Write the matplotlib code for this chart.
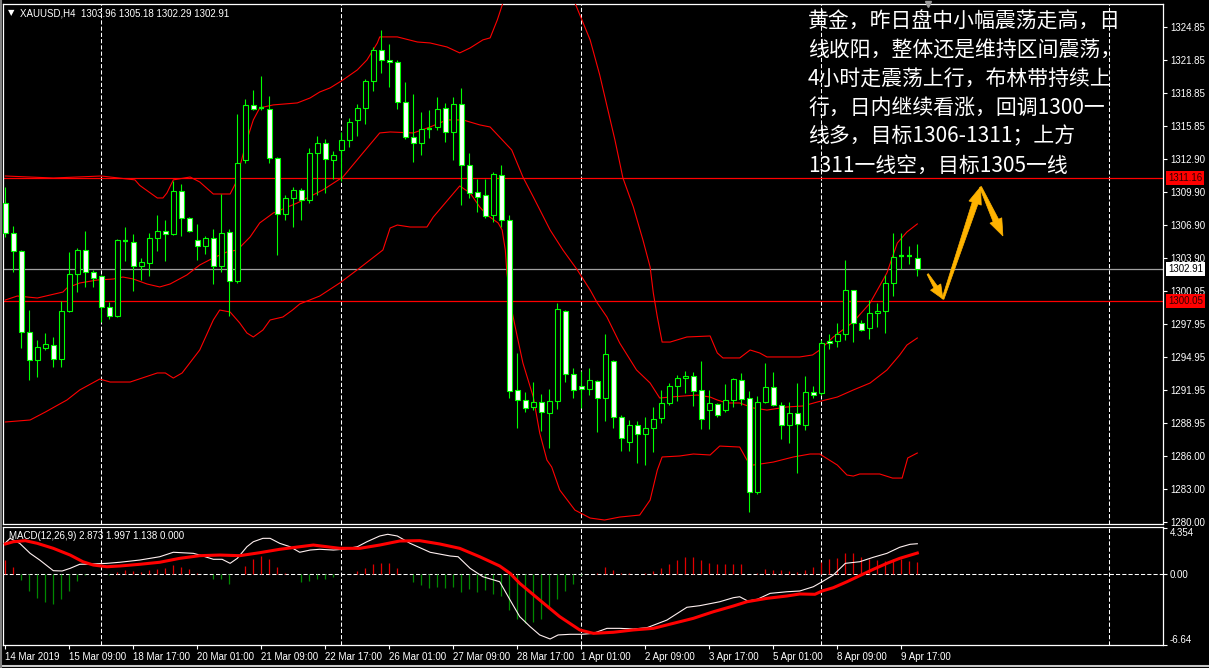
import matplotlib
matplotlib.use('Agg')
import matplotlib.pyplot as plt
import matplotlib.transforms as mtrans
from matplotlib.patches import Polygon
from matplotlib.lines import Line2D
import numpy as np

# ---------------- data ----------------
opens = [1308.91, 1306.19, 1304.56, 1297.22, 1294.68, 1295.77, 1296.04, 1294.77, 1299.12, 1302.48,
         1304.65, 1302.66, 1302.29, 1299.49, 1298.67, 1305.37, 1305.37, 1303.20, 1303.47, 1305.74,
         1306.37, 1306.10, 1310.00, 1307.55, 1305.56, 1305.01, 1305.74, 1303.20, 1306.28, 1301.84,
         1312.80, 1317.79, 1317.52, 1317.42, 1312.99, 1307.91, 1309.36, 1310.09, 1309.18, 1313.44,
         1314.34, 1312.80, 1313.71, 1314.62, 1316.43, 1317.52, 1319.96, 1322.77, 1321.86, 1321.68,
         1318.06, 1314.89, 1314.34, 1315.61, 1315.79, 1317.52, 1315.34, 1317.88, 1312.35, 1309.90,
         1309.63, 1307.82, 1311.44, 1307.37, 1291.97, 1291.06, 1290.43, 1290.88, 1289.88, 1290.97,
         1299.15, 1293.42, 1292.33, 1292.06, 1292.78, 1291.24, 1294.59, 1289.52, 1287.25, 1288.79,
         1287.98, 1288.52, 1289.43, 1290.79, 1292.33, 1293.05, 1293.23, 1291.97, 1290.15, 1290.74,
         1290.15, 1291.06, 1292.87, 1291.24, 1282.72, 1290.88, 1292.24, 1290.61, 1288.79, 1289.88,
         1288.79, 1291.78, 1291.69, 1296.41, 1296.41, 1297.04, 1300.98, 1298.04, 1297.58, 1298.94,
         1299.12, 1301.66, 1304.02, 1304.11, 1303.96]
highs = [1310.36, 1306.82, 1304.65, 1299.21, 1296.50, 1297.13, 1296.77, 1300.03, 1304.47, 1304.83,
         1306.37, 1302.84, 1302.38, 1299.94, 1305.65, 1306.73, 1306.10, 1303.93, 1306.19, 1307.82,
         1307.37, 1310.90, 1310.63, 1307.64, 1307.01, 1305.92, 1306.55, 1309.72, 1306.55, 1316.97,
         1318.33, 1319.15, 1320.41, 1318.60, 1313.10, 1309.63, 1310.36, 1310.27, 1313.89, 1314.98,
         1314.71, 1313.62, 1315.34, 1316.61, 1317.88, 1320.14, 1323.04, 1324.58, 1323.31, 1321.86,
         1319.87, 1318.78, 1317.15, 1317.33, 1318.51, 1317.97, 1318.51, 1319.33, 1313.44, 1311.08,
         1311.08, 1311.72, 1312.35, 1307.82, 1295.32, 1291.78, 1292.69, 1291.60, 1292.06, 1299.85,
         1299.25, 1293.96, 1293.69, 1293.96, 1292.87, 1297.04, 1294.68, 1289.70, 1289.25, 1289.16,
         1289.52, 1290.43, 1291.97, 1292.60, 1293.32, 1293.69, 1293.60, 1294.59, 1291.97, 1290.79,
         1292.51, 1293.05, 1293.51, 1291.88, 1291.42, 1294.41, 1293.60, 1290.88, 1290.88, 1292.60,
         1293.23, 1292.33, 1296.50, 1297.04, 1298.04, 1303.74, 1301.03, 1298.31, 1300.12, 1299.85,
         1302.38, 1306.19, 1306.19, 1305.01, 1305.18]
lows = [1305.83, 1302.66, 1295.77, 1292.87, 1293.14, 1295.59, 1294.05, 1294.05, 1299.03, 1300.84,
        1301.30, 1301.30, 1298.13, 1298.40, 1298.58, 1303.65, 1300.94, 1301.93, 1302.29, 1304.56,
        1303.65, 1306.01, 1305.92, 1306.28, 1303.74, 1304.29, 1301.57, 1302.66, 1298.67, 1301.66,
        1312.53, 1317.33, 1317.33, 1312.53, 1304.20, 1307.37, 1306.73, 1307.37, 1308.91, 1309.63,
        1309.81, 1311.08, 1310.90, 1313.98, 1314.98, 1316.07, 1319.06, 1320.69, 1319.42, 1317.42,
        1314.71, 1312.62, 1313.26, 1314.80, 1315.52, 1314.43, 1312.80, 1308.73, 1309.36, 1308.09,
        1307.55, 1307.19, 1306.73, 1291.24, 1288.52, 1289.97, 1290.15, 1288.25, 1286.71, 1290.24,
        1292.69, 1291.24, 1290.34, 1291.51, 1288.16, 1289.16, 1288.52, 1286.44, 1286.44, 1285.35,
        1285.17, 1286.35, 1288.98, 1290.61, 1290.97, 1291.69, 1290.52, 1288.43, 1288.43, 1289.52,
        1289.97, 1290.43, 1290.61, 1280.91, 1282.54, 1290.79, 1290.52, 1287.53, 1287.16, 1284.45,
        1288.34, 1291.24, 1291.51, 1295.68, 1295.86, 1296.50, 1296.31, 1297.31, 1296.59, 1297.67,
        1297.13, 1300.48, 1302.93, 1303.38, 1302.29]
closes = [1306.19, 1304.56, 1297.22, 1294.68, 1295.86, 1296.13, 1294.77, 1299.12, 1302.48, 1304.65,
          1302.66, 1302.11, 1299.49, 1298.67, 1305.56, 1305.47, 1303.20, 1303.56, 1305.74, 1306.37,
          1306.10, 1310.00, 1307.55, 1306.37, 1305.01, 1305.74, 1303.20, 1306.19, 1301.84, 1312.53,
          1317.79, 1317.42, 1317.42, 1312.99, 1307.91, 1309.36, 1310.09, 1309.18, 1313.44, 1314.34,
          1312.89, 1313.26, 1314.62, 1316.25, 1317.52, 1319.96, 1322.77, 1321.86, 1321.68, 1318.06,
          1314.89, 1314.34, 1315.61, 1315.52, 1317.42, 1315.34, 1317.88, 1312.35, 1309.81, 1309.45,
          1307.73, 1311.54, 1307.37, 1291.88, 1291.06, 1290.34, 1290.88, 1289.97, 1290.97, 1299.30,
          1293.42, 1291.97, 1292.06, 1292.87, 1291.24, 1295.23, 1289.52, 1287.62, 1288.79, 1287.98,
          1288.52, 1289.34, 1290.79, 1292.33, 1293.05, 1293.23, 1291.88, 1289.34, 1290.79, 1289.70,
          1291.06, 1292.96, 1291.15, 1282.72, 1290.88, 1292.24, 1290.61, 1288.79, 1289.88, 1288.89,
          1291.78, 1291.51, 1296.22, 1296.22, 1297.04, 1301.03, 1298.04, 1297.40, 1298.94, 1299.12,
          1301.66, 1304.02, 1304.11, 1304.02, 1302.91]

# Bollinger bands (bar index, price)
bb_up_idx = [0, 6, 12, 16.2, 16.8, 19, 19.7, 20.2, 21, 23.1, 24.3, 26, 28.1, 29, 29.3, 30.2, 31, 31.8,
             33.5, 36.5, 38.1, 39.3, 40.6, 42.2, 44, 45.2, 46.5, 46.8, 49, 51.5, 53.1, 55.2, 56.8, 58.1,
             59.7, 60.6, 61.5, 62.2, 64, 69, 71.2, 73.1, 74.3, 76.2, 77.2, 78.5, 79.7, 80.6, 81, 81.5,
             82.1, 83.1, 85.2, 88.1, 89, 89.7, 91.8, 93.1, 94.3, 95.2, 99.3, 100.9, 101.8, 103.5, 106,
             108.1, 110.2, 111.5, 112.7, 114]
bb_up = [1311.35, 1311.17, 1311.35, 1311.0, 1310.5, 1309.36, 1309.36, 1309.81, 1311.0, 1311.26, 1310.81,
         1309.72, 1309.72, 1311.0, 1312.17, 1314.62, 1316.43, 1317.52, 1317.79, 1317.97, 1318.42, 1318.96,
         1319.33, 1320.05, 1320.96, 1321.86, 1323.40, 1323.95, 1323.95, 1323.49, 1323.40, 1323.04, 1322.50,
         1322.95, 1323.68, 1323.86, 1325.49, 1327.03, 1330.5, 1330.5, 1327.03, 1323.68, 1320.5, 1314.62,
         1311.17, 1308.55, 1305.56, 1303.11, 1300.75, 1298.58, 1296.31, 1296.31, 1296.77, 1296.86, 1295.32,
         1294.87, 1294.87, 1295.59, 1295.32, 1294.96, 1294.96, 1295.14, 1295.59, 1296.77, 1298.13, 1299.85,
         1302.57, 1305.28, 1306.28, 1307.01]
bb_mid_idx = [0, 1.5, 4, 5.6, 7.2, 7.7, 9.3, 11.5, 13.5, 14.7, 16, 17.7, 19.3, 20.6, 22.7, 24.3, 26,
              27.7, 29, 30.6, 31.8, 33.5, 36.5, 39.7, 42.2, 44.7, 46.8, 48.1, 51, 53.1, 55.2, 57.2, 59.3,
              60.6, 63.3, 64.7, 66, 68.1, 69.7, 71.5, 73.1, 74, 75.2, 76.8, 78.9, 80.6, 81.8, 83.1, 84.7,
              86.5, 88.1, 89, 90.2, 91.8, 93.5, 95.2, 97.7, 99.7, 101.5, 104, 106, 108.1, 110.2, 111.8,
              112.7, 114]
bb_mid = [1300.12, 1300.48, 1300.30, 1300.57, 1300.84, 1301.21, 1301.66, 1301.93, 1302.02, 1302.20,
          1302.02, 1301.57, 1301.30, 1301.57, 1302.39, 1303.29, 1303.93, 1304.47, 1304.65, 1305.83,
          1307.10, 1308.00, 1308.91, 1310.09, 1311.26, 1313.44, 1315.25, 1315.34, 1315.25, 1315.79,
          1316.43, 1316.43, 1315.98, 1315.79, 1313.71, 1311.26, 1309.45, 1306.46, 1304.65, 1302.84,
          1301.03, 1299.85, 1298.58, 1296.22, 1293.78, 1292.60, 1291.24, 1291.33, 1291.42, 1291.51,
          1291.33, 1291.06, 1290.79, 1290.79, 1290.34, 1290.15, 1290.43, 1290.52, 1290.88, 1291.33,
          1291.97, 1292.60, 1293.78, 1295.14, 1296.04, 1296.68]
bb_low_idx = [0, 3.1, 5, 6.8, 7.7, 9.3, 11.8, 13.1, 15.6, 19, 20, 21, 22.1, 24.3, 26, 26.8, 28.1, 29.3,
              30.2, 31, 32.2, 33.1, 34.7, 35.9, 36.8, 39.3, 41.8, 44.3, 47.2, 48.1, 49, 50.6, 52.7, 53.5,
              56.8, 58.1, 59.3, 60.2, 61.6, 62.1, 62.5, 62.7, 63.3, 64, 64.7, 66, 66.8, 67.7, 68.3, 69.3,
              71.2, 73.1, 74.9, 76.8, 79.3, 80.6, 81.5, 82.1, 84.3, 86, 88.1, 89.3, 91.8, 92.7, 93.5, 96,
              98.5, 100.6, 101.8, 104, 105.2, 106, 106.8, 109.3, 110.9, 112.1, 112.8, 114]
bb_low = [1289.07, 1289.25, 1289.97, 1290.70, 1291.06, 1291.97, 1292.96, 1292.69, 1292.69, 1293.51,
          1293.51, 1293.05, 1293.51, 1295.59, 1298.31, 1299.21, 1299.03, 1298.04, 1297.13, 1296.77,
          1297.40, 1298.31, 1298.58, 1299.21, 1299.76, 1300.48, 1301.66, 1303.02, 1304.65, 1306.64,
          1306.91, 1306.73, 1306.73, 1307.64, 1310.45, 1309.81, 1308.55, 1307.82, 1307.10, 1306.46,
          1304.65, 1302.57, 1299.21, 1296.77, 1294.41, 1291.33, 1288.07, 1285.62, 1284.99, 1282.91,
          1281.09, 1280.37, 1280.19, 1280.46, 1280.64, 1282.00, 1284.72, 1285.90, 1285.99, 1286.17,
          1286.08, 1286.89, 1286.80, 1285.62, 1285.17, 1285.44, 1285.90, 1286.17, 1286.17, 1285.17,
          1284.27, 1284.17, 1284.36, 1284.36, 1283.99, 1283.99, 1285.81, 1286.26]

# MACD (12,26,9)
macd_idx = [0, 0.6, 1.8, 3.1, 4.3, 6, 7.1, 8.1, 9.3, 11, 12.7, 14.3, 16.8, 19.3, 21, 23.5, 24.3, 26,
            27.1, 28.1, 29, 30.2, 31, 32.2, 33.1, 34.3, 35.6, 36.8, 38.1, 39.3, 41, 42.2, 44, 45.2, 46.8,
            47.8, 49, 50.6, 53.1, 55.6, 56.6, 58.1, 59.7, 61.8, 63.1, 64.3, 65.6, 66.8, 68.1, 69.1, 70.6,
            72.1, 73.5, 75.2, 76.8, 78.5, 80.2, 82.7, 85.2, 86.8, 89.3, 91, 91.8, 92.8, 94, 95.6, 97.7,
            99.3, 101, 102.1, 103.5, 105, 106.8, 108.5, 110.2, 111.8, 113.1, 114]
macd_main = [2.95, 3.38, 2.91, 1.97, 1.34, 0.34, 0.31, 0.56, 0.94, 0.97, 1.03, 1.13, 1.34, 1.65, 2.07,
             1.97, 1.81, 1.41, 1.41, 1.03, 1.50, 2.59, 3.06, 3.38, 3.38, 2.91, 2.59, 2.07, 2.28, 2.35,
             2.28, 2.35, 2.59, 3.06, 3.60, 3.76, 3.60, 2.91, 2.07, 1.72, 1.65, 0.56, -0.23, -0.70, -2.42,
             -3.98, -4.92, -5.70, -6.08, -5.70, -5.64, -5.64, -5.55, -5.08, -5.08, -5.14, -5.02, -4.30,
             -3.10, -2.95, -2.58, -2.20, -2.11, -2.51, -2.35, -1.79, -1.64, -1.57, -1.17, -0.70, -0.07,
             1.03, 1.18, 1.60, 1.97, 2.54, 2.82, 2.873]
sig_idx = [0, 1, 2.5, 4, 6, 8.1, 9.7, 11, 12.7, 14.3, 16.8, 19.3, 21.8, 24.3, 26.8, 29.3, 31.8, 34.3,
           36.8, 38.5, 40.2, 41.8, 44.3, 46.8, 49.3, 51.8, 54.3, 56.8, 59.3, 61.8, 63.1, 64.3, 66.8,
           69.3, 71.8, 73.5, 76, 78.5, 81, 83.5, 86, 88.5, 91, 92.7, 95.2, 97.7, 99.3, 101.2, 102.1,
           103.5, 105.2, 106.8, 108.5, 110.2, 111.8, 114]
sig_line = [2.85, 3.06, 3.16, 2.91, 2.44, 1.81, 1.18, 0.87, 0.71, 0.78, 0.94, 1.13, 1.50, 1.75, 1.81,
            1.75, 2.03, 2.35, 2.59, 2.75, 2.59, 2.44, 2.44, 2.75, 3.13, 3.16, 2.85, 2.44, 1.65, 0.78,
            0.09, -0.85, -2.42, -3.98, -5.23, -5.55, -5.45, -5.23, -5.08, -4.61, -4.14, -3.52, -2.98,
            -2.58, -2.26, -2.04, -1.85, -1.88, -1.57, -1.26, -0.70, -0.13, 0.47, 1.03, 1.50, 1.997]
macd_hist = [1.32, 0.69, -0.50, -1.57, -2.19, -2.60, -2.76, -2.35, -1.57, -0.63,
             -0.10, 0.0, 0.0, -0.10, 0.22, 0.44, 0.31, 0.22, 0.44, 0.53,
             0.60, 0.91, 0.69, 0.47, 0.16, 0.0, -0.47, -0.47, -0.88, 0.0,
             0.78, 1.41, 1.72, 1.41, 0.69, 0.16, 0.0, -0.72, -0.63, -0.47,
             -0.47, -0.25, 0.0, 0.06, 0.31, 0.60, 1.00, 1.07, 1.07, 0.60,
             0.0, -0.72, -1.03, -1.28, -1.19, -1.28, -1.19, -1.66, -1.35, -1.66,
             -1.50, -1.88, -2.07, -3.38, -4.23, -4.54, -4.48, -4.23, -3.23, -2.35,
             -1.60, -0.88, -0.10, 0.0, 0.16, 0.69, 0.44, 0.12, 0.12, 0.06,
             0.12, 0.31, 0.60, 0.94, 1.32, 1.63, 1.63, 1.32, 1.10, 0.94,
             1.00, 0.94, 1.00, 0.0, 0.16, 0.47, 0.44, 0.38, 0.31, 0.22,
             0.44, 0.69, 1.16, 1.41, 1.57, 2.04, 2.04, 1.63, 1.41, 1.32,
             1.22, 1.41, 1.41, 1.22, 1.14]

# axes labels
price_ticks = [1324.85, 1321.85, 1318.85, 1315.85, 1312.90, 1309.90, 1306.90, 1303.90, 1300.95,
               1297.95, 1294.95, 1291.95, 1288.95, 1286.00, 1283.00, 1280.00]
date_labels = ['14 Mar 2019', '15 Mar 09:00', '18 Mar 17:00', '20 Mar 01:00', '21 Mar 09:00',
               '22 Mar 17:00', '26 Mar 01:00', '27 Mar 09:00', '28 Mar 17:00', '1 Apr 01:00',
               '2 Apr 09:00', '3 Apr 17:00', '5 Apr 01:00', '8 Apr 09:00', '9 Apr 17:00']
date_bars = [0, 8, 16, 24, 32, 40, 48, 56, 64, 72, 80, 88, 96, 104, 112]
grid_bars = [12, 42, 72, 102, 138]
macd_ticks = [-6.64, 0.0, 4.354]
macd_tick_labels = ['-6.64', '0.00', '4.354']

level_resist = 1311.16
level_support = 1300.05
last_price = 1302.91
# analyst's drawn arrow path (bar index, price)
arrow_bars = [115.3, 117.2, 121.9, 124.7]
arrow_prices = [1302.47, 1300.21, 1310.36, 1305.92]

title = "XAUUSD,H4  1303.96 1305.18 1302.29 1302.91"
macd_title = "MACD(12,26,9) 2.873 1.997 1.138 0.000"
comment_lines = ["黄金，昨日盘中小幅震荡走高，日",
                 "线收阳，整体还是维持区间震荡，",
                 "4小时走震荡上行，布林带持续上",
                 "行，日内继续看涨，回调1300一",
                 "线多，目标1306-1311；上方",
                 "1311一线空，目标1305一线"]

# ---------------- figure ----------------
W, H = 1209, 668
plt.rcParams['font.family'] = ['Liberation Sans', 'DejaVu Sans']
fig = plt.figure(figsize=(W / 100, H / 100), dpi=100, facecolor='black')

GREEN = '#00FF00'
RED = '#FF0000'
tick_fs = 7

ax = fig.add_axes([3 / W, 1 - 524 / H, 1160 / W, 520 / H])
ax2 = fig.add_axes([3 / W, 1 - 645 / H, 1160 / W, 118 / H], sharex=ax)
for a in (ax, ax2):
    a.set_facecolor('black')
    for s in a.spines.values():
        s.set_color('white')
        s.set_linewidth(0.9)
ax.set_xlim(-0.29, 144.71)
ax.set_ylim(1279.83, 1326.93)
ax2.set_ylim(-6.645, 4.445)

# vertical dashed grid
for g in grid_bars:
    for a in (ax, ax2):
        a.axvline(g, color='white', lw=0.75, ls=(0, (4, 2)), zorder=1)

# horizontal levels
ax.axhline(level_resist, color=RED, lw=0.9, zorder=2)
ax.axhline(level_support, color=RED, lw=0.9, zorder=2)
ax.axhline(last_price, color='#A0A0A0', lw=0.9, zorder=2)

# Bollinger bands
for xi, yi in ((bb_up_idx, bb_up), (bb_mid_idx, bb_mid), (bb_low_idx, bb_low)):
    ax.plot(xi, yi, color=RED, lw=0.8, zorder=3)

# candles
n = len(opens)
xs = np.arange(n)
ax.vlines(xs, lows, highs, color=GREEN, lw=0.8, zorder=4)
bw = 0.6
for i in range(n):
    o, c = opens[i], closes[i]
    if abs(c - o) < 0.15:
        ax.hlines((o + c) / 2, i - bw / 2, i + bw / 2, color=GREEN, lw=1.6, zorder=5)
    else:
        fill = 'black' if c > o else 'white'
        ax.bar(i, c - o, bottom=o, width=bw, color=fill, edgecolor=GREEN,
               linewidth=0.8, zorder=5)

# price axis
ax.yaxis.tick_right()
ax.set_yticks(price_ticks)
ax.set_yticklabels(['%.2f' % p for p in price_ticks])
ax.tick_params(axis='y', colors='white', labelsize=tick_fs, length=3, width=0.8, pad=2)
ax.tick_params(axis='x', bottom=False, labelbottom=False)

# price labels with boxes
btrans = mtrans.blended_transform_factory(ax.transAxes, ax.transData)
for val, fc, tc in ((level_resist, RED, '#300000'), (last_price, 'white', 'black'),
                    (level_support, RED, '#300000')):
    ax.text(1.0045, val, '%.2f' % val, transform=btrans, fontsize=tick_fs, color=tc,
            va='center', ha='left', zorder=10, clip_on=False,
            bbox=dict(boxstyle='square,pad=0.18', fc=fc, ec='none'))

# shift marker
ax.plot([115.3], [1], marker='v', color='#9A9A9A', markersize=5,
        transform=mtrans.blended_transform_factory(ax.transData, ax.transAxes),
        clip_on=False, zorder=10)

# MACD panel
hist_colors = [('#E00000' if v > 0 else '#008800') for v in macd_hist]
ax2.vlines(xs, 0, macd_hist, colors=hist_colors, lw=0.9, zorder=2)
ax2.axhline(0, color='white', lw=0.75, ls=(0, (4, 2)), zorder=1)
ax2.plot(macd_idx, macd_main, color='#FFF0F0', lw=0.8, zorder=3)
ax2.plot(sig_idx, sig_line, color=RED, lw=2.2, zorder=4)
ax2.yaxis.tick_right()
ax2.set_yticks(macd_ticks)
ax2.set_yticklabels(macd_tick_labels)
ax2.tick_params(axis='y', colors='white', labelsize=tick_fs, length=3, width=0.8, pad=2)
labs = ax2.get_yticklabels()
labs[0].set_va('bottom')
labs[2].set_va('top')
ax2.set_xticks(date_bars)
ax2.set_xticklabels(date_labels)
ax2.tick_params(axis='x', colors='white', labelsize=tick_fs, length=3, width=0.8, pad=2)
for lab in ax2.get_xticklabels():
    lab.set_ha('left')

# titles
fig.text(8 / W, 1 - 13 / H, '\u25BC', color='white', fontsize=6, va='center', ha='left',
         family=['DejaVu Sans'])
fig.text(20 / W, 1 - 13 / H, title, color='white', fontsize=tick_fs, va='center', ha='left')
fig.text(9 / W, 1 - 536 / H, macd_title, color='white', fontsize=tick_fs, va='center', ha='left')

# comment text
for k, line in enumerate(comment_lines):
    fig.text(808 / W, 1 - (22 + 28.7 * k) / H, line, color='white', fontsize=15,
             va='center', ha='left', family=['Noto Sans CJK SC', 'DejaVu Sans'])

# drawn arrows (tapered, in display space)
def tapered_arrow(p0, p1, w0, w1, head_w, head_len, color='#FFB300'):
    p0 = np.asarray(ax.transData.transform(p0))
    p1 = np.asarray(ax.transData.transform(p1))
    d = p1 - p0
    L = np.hypot(*d)
    d = d / L
    nrm = np.array([-d[1], d[0]])
    base = p1 - d * head_len
    pts = [p0 + nrm * w0 / 2, base + nrm * w1 / 2, base + nrm * head_w / 2, p1,
           base - nrm * head_w / 2, base - nrm * w1 / 2, p0 - nrm * w0 / 2]
    fig.patches.append(Polygon(pts, closed=True, fc=color, ec=color, lw=0.5,
                               transform=None, figure=fig, zorder=20))

pts = list(zip(arrow_bars, arrow_prices))
tapered_arrow(pts[0], pts[1], 1.5, 4, 12, 14)
tapered_arrow(pts[1], pts[2], 2, 6, 13, 17)
tapered_arrow(pts[2], pts[3], 2, 6, 13, 17)

# window frame
fig.add_artist(Line2D([0, 1], [1 - 665.5 / H] * 2, color='#C8C8C8', lw=1.5, transform=fig.transFigure))
fig.add_artist(Line2D([0.8 / W] * 2, [0, 1], color='#808080', lw=1.5, transform=fig.transFigure))

fig.savefig('out.png', dpi=100, facecolor='black')
